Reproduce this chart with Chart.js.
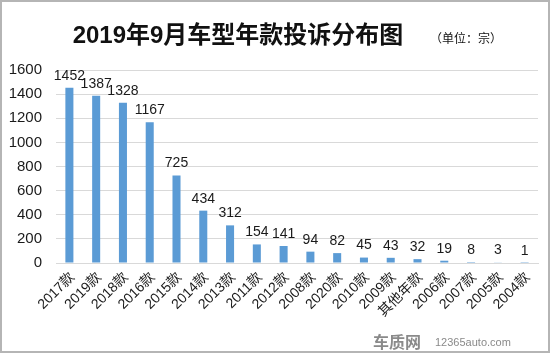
<!DOCTYPE html>
<html>
<head>
<meta charset="utf-8">
<script src="https://cdn.jsdelivr.net/npm/chart.js@4"></script>
<style>
  html, body { margin: 0; padding: 0; background: #fff; }
  #wrap { width: 550px; height: 353px; position: relative; }
</style>
</head>
<body>
<div id="wrap"><canvas id="complaintChart" width="550" height="353"></canvas></div>
<script>
// --- data ---
const modelYears = ['2017款', '2019款', '2018款', '2016款', '2015款', '2014款', '2013款', '2011款', '2012款',
  '2008款', '2020款', '2010款', '2009款', '其他年款', '2006款', '2007款', '2005款', '2004款'];
const complaints = [1452, 1387, 1328, 1167, 725, 434, 312, 154, 141, 94, 82, 45, 43, 32, 19, 8, 3, 1];
const yTicks = [0, 200, 400, 600, 800, 1000, 1200, 1400, 1600];

const chartTitle = '2019年9月车型年款投诉分布图';
const unitText = '（单位：宗）';

const FONT = '"Liberation Sans", "Noto Sans CJK SC", sans-serif';

// value labels, rotated category labels, title, border, watermark
const decorPlugin = {
  id: 'decor',
  afterDatasetsDraw(chart) {
    const ctx = chart.ctx;
    const meta = chart.getDatasetMeta(0);
    const xScale = chart.scales.x;
    const baseY = chart.chartArea.bottom;
    ctx.save();
    ctx.fillStyle = '#1a1a1a';
    ctx.font = '14px ' + FONT;
    ctx.textAlign = 'center';
    ctx.textBaseline = 'bottom';
    meta.data.forEach((bar, i) => {
      ctx.fillText(String(complaints[i]), bar.x, bar.y - 5);
    });
    // category labels at 45 degrees
    ctx.textAlign = 'right';
    ctx.textBaseline = 'middle';
    modelYears.forEach((lab, i) => {
      const x = xScale.getPixelForValue(i);
      ctx.save();
      ctx.translate(x + 3, baseY + 12);
      ctx.rotate(-Math.PI / 4);
      ctx.fillText(lab, 0, 0);
      ctx.restore();
    });
    ctx.restore();
  },
  afterDraw(chart) {
    const ctx = chart.ctx;
    ctx.save();
    // title
    ctx.fillStyle = '#111';
    ctx.font = 'bold 24px ' + FONT;
    ctx.textAlign = 'center';
    ctx.textBaseline = 'middle';
    ctx.fillText(chartTitle, 238, 36);
    ctx.font = '12px ' + FONT;
    ctx.textAlign = 'left';
    ctx.fillText(unitText, 430, 40);
    // watermark
    ctx.fillStyle = '#8a8a8a';
    ctx.font = 'bold 16px "Noto Sans CJK SC", sans-serif';
    ctx.fillText('车质网', 373, 342);
    ctx.font = '11px ' + FONT;
    ctx.fillText('12365auto.com', 435, 343);
    // frame
    ctx.strokeStyle = '#b5b5b5';
    ctx.lineWidth = 2;
    ctx.strokeRect(1, 1, chart.width - 2, chart.height - 2);
    ctx.restore();
  }
};

new Chart(document.getElementById('complaintChart').getContext('2d'), {
  type: 'bar',
  data: {
    labels: modelYears,
    datasets: [{ label: '投诉量', data: complaints,
      backgroundColor: '#5b9bd5', barPercentage: 0.3, categoryPercentage: 1 }]
  },
  options: {
    responsive: false, animation: false,
    layout: { padding: { top: 70, left: 8, right: 12, bottom: 82 } },
    plugins: { legend: { display: false }, tooltip: { enabled: false }, title: { display: false } },
    scales: {
      x: {
        grid: { display: false },
        border: { color: '#d9d9d9' },
        ticks: { display: false }
      },
      y: {
        min: 0, max: 1600,
        afterBuildTicks(axis) { axis.ticks = yTicks.map(v => ({ value: v })); },
        afterFit(axis) { axis.width = 48; },
        grid: { color: '#d9d9d9', drawTicks: false },
        border: { display: false },
        ticks: { color: '#1a1a1a', font: { size: 15, family: FONT }, padding: 14, callback: v => String(v) }
      }
    }
  },
  plugins: [decorPlugin]
});
</script>
</body>
</html>
